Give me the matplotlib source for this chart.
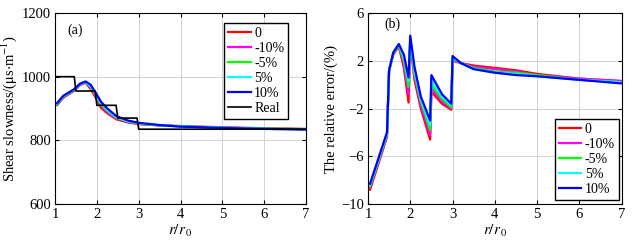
import matplotlib
matplotlib.use("Agg")
import matplotlib.pyplot as plt

plt.rcParams['font.family'] = ['Liberation Serif', 'DejaVu Serif']
plt.rcParams['mathtext.fontset'] = 'stix'

labels = ['0', '-10%', '-5%', '5%', '10%']
colors = ['#ff0000', '#ff00ff', '#00ff00', '#00ffff', '#0000ff']

# real (step) profile
real_x = [1.0, 1.46, 1.5, 1.96, 2.0, 2.46, 2.5, 2.96, 3.0, 7.0]
real_y = [1000, 1000, 955, 955, 910, 910, 870, 870, 835, 835]

# inverted shear slowness curves
a_x = [1.05, 1.2, 1.45, 1.6, 1.73, 1.85, 1.97, 2.1, 2.25, 2.47, 2.75, 3.0, 3.5, 4.0, 5.0, 6.0, 7.0]
a_0 = [911, 934, 955, 974, 981, 962, 935, 902, 885, 866, 856, 851, 847, 845, 841, 838, 836]
a_m10 = [913, 936, 957, 975, 982, 966, 940, 908, 889, 868, 858, 852, 847, 844, 840, 837, 835]
a_m5 = [914, 937, 958, 976, 983, 969, 944, 912, 893, 871, 859, 853, 847, 844, 840, 837, 835]
a_p5 = [916, 939, 959, 977, 984, 972, 947, 917, 896, 873, 860, 854, 848, 844, 839, 836, 835]
a_p10 = [917, 940, 960, 978, 985, 975, 950, 921, 900, 876, 862, 855, 848, 843, 839, 836, 834]

# relative error curves
b_x = [1.05, 1.45, 1.5, 1.6, 1.73, 1.85, 1.96, 2.0, 2.1, 2.25, 2.47, 2.5, 2.75, 2.97, 3.0, 3.2, 3.5, 4.0, 4.5, 5.0, 6.0, 7.0]
b_0 = [-8.8, -4.4, 1.2, 2.5, 3.2, 1.4, -1.5, 3.5, 0.4, -2.0, -4.6, -0.6, -1.6, -2.1, 2.0, 1.8, 1.6, 1.4, 1.2, 0.9, 0.5, 0.3]
b_m10 = [-8.6, -4.3, 1.2, 2.6, 3.3, 1.7, -0.8, 3.7, 0.7, -1.7, -4.2, -0.3, -1.4, -2.0, 2.1, 1.8, 1.5, 1.3, 1.1, 0.8, 0.5, 0.3]
b_m5 = [-8.5, -4.2, 1.2, 2.6, 3.3, 2.0, -0.2, 3.8, 0.9, -1.4, -3.8, 0.0, -1.2, -1.9, 2.2, 1.8, 1.4, 1.1, 1.0, 0.8, 0.4, 0.2]
b_p5 = [-8.4, -4.1, 1.2, 2.7, 3.4, 2.3, 0.3, 4.0, 1.2, -1.2, -3.4, 0.4, -1.0, -1.7, 2.3, 1.8, 1.3, 1.0, 0.9, 0.7, 0.4, 0.2]
b_p10 = [-8.3, -4.0, 1.2, 2.7, 3.4, 2.5, 0.6, 4.1, 1.5, -1.0, -3.0, 0.8, -0.8, -1.6, 2.4, 1.8, 1.3, 1.0, 0.8, 0.7, 0.4, 0.1]

a_series = [a_0, a_m10, a_m5, a_p5, a_p10]
b_series = [b_0, b_m10, b_m5, b_p5, b_p10]

fig = plt.figure(figsize=(6.41, 2.41), dpi=100)
ax1 = fig.add_axes([0.0858, 0.1535, 0.3916, 0.7925])
ax2 = fig.add_axes([0.574, 0.1535, 0.396, 0.7925])

leg_kw = dict(fontsize=10, fancybox=False, edgecolor='black', framealpha=1,
              handlelength=1.6, handletextpad=0.25, labelspacing=0.15,
              borderpad=0.3, borderaxespad=0)

for ys, c, lab in zip(a_series, colors, labels):
    ax1.plot(a_x, ys, color=c, lw=1.6, label=lab)
ax1.plot(real_x, real_y, color='black', lw=1.2, label='Real')
ax1.set_xlim(1, 7)
ax1.set_ylim(600, 1200)
ax1.set_yticks([600, 800, 1000, 1200])
ax1.set_ylabel(r'Shear slowness/($\mathrm{\mu}$s$\cdot$m$^{-1}$)', fontsize=10.5, labelpad=2)
ax1.text(1.3, 1135, '(a)', fontsize=10)
ax1.legend(loc='upper right', bbox_to_anchor=(0.93, 0.95), **leg_kw)

for ys, c, lab in zip(b_series, colors, labels):
    ax2.plot(b_x, ys, color=c, lw=1.6, label=lab)
ax2.set_xlim(1, 7)
ax2.set_ylim(-10, 6)
ax2.set_yticks([-10, -6, -2, 2, 6])
ax2.set_ylabel('The relative error/(%)', fontsize=10.5, labelpad=2)
ax2.text(1.4, 4.8, '(b)', fontsize=10)
ax2.legend(loc='lower right', bbox_to_anchor=(0.99, 0.02), **leg_kw)

for ax in (ax1, ax2):
    ax.set_xticks([1, 2, 3, 4, 5, 6, 7])
    ax.set_xlabel(r'$r/r_{\,0}$', fontsize=11, labelpad=1)
    ax.grid(True, color='#cccccc', lw=0.6)
    ax.tick_params(direction='in', labelsize=10.5, top=True, right=True, length=3, pad=3)
    for s in ax.spines.values():
        s.set_linewidth(0.8)

fig.savefig('out.png', dpi=100)
